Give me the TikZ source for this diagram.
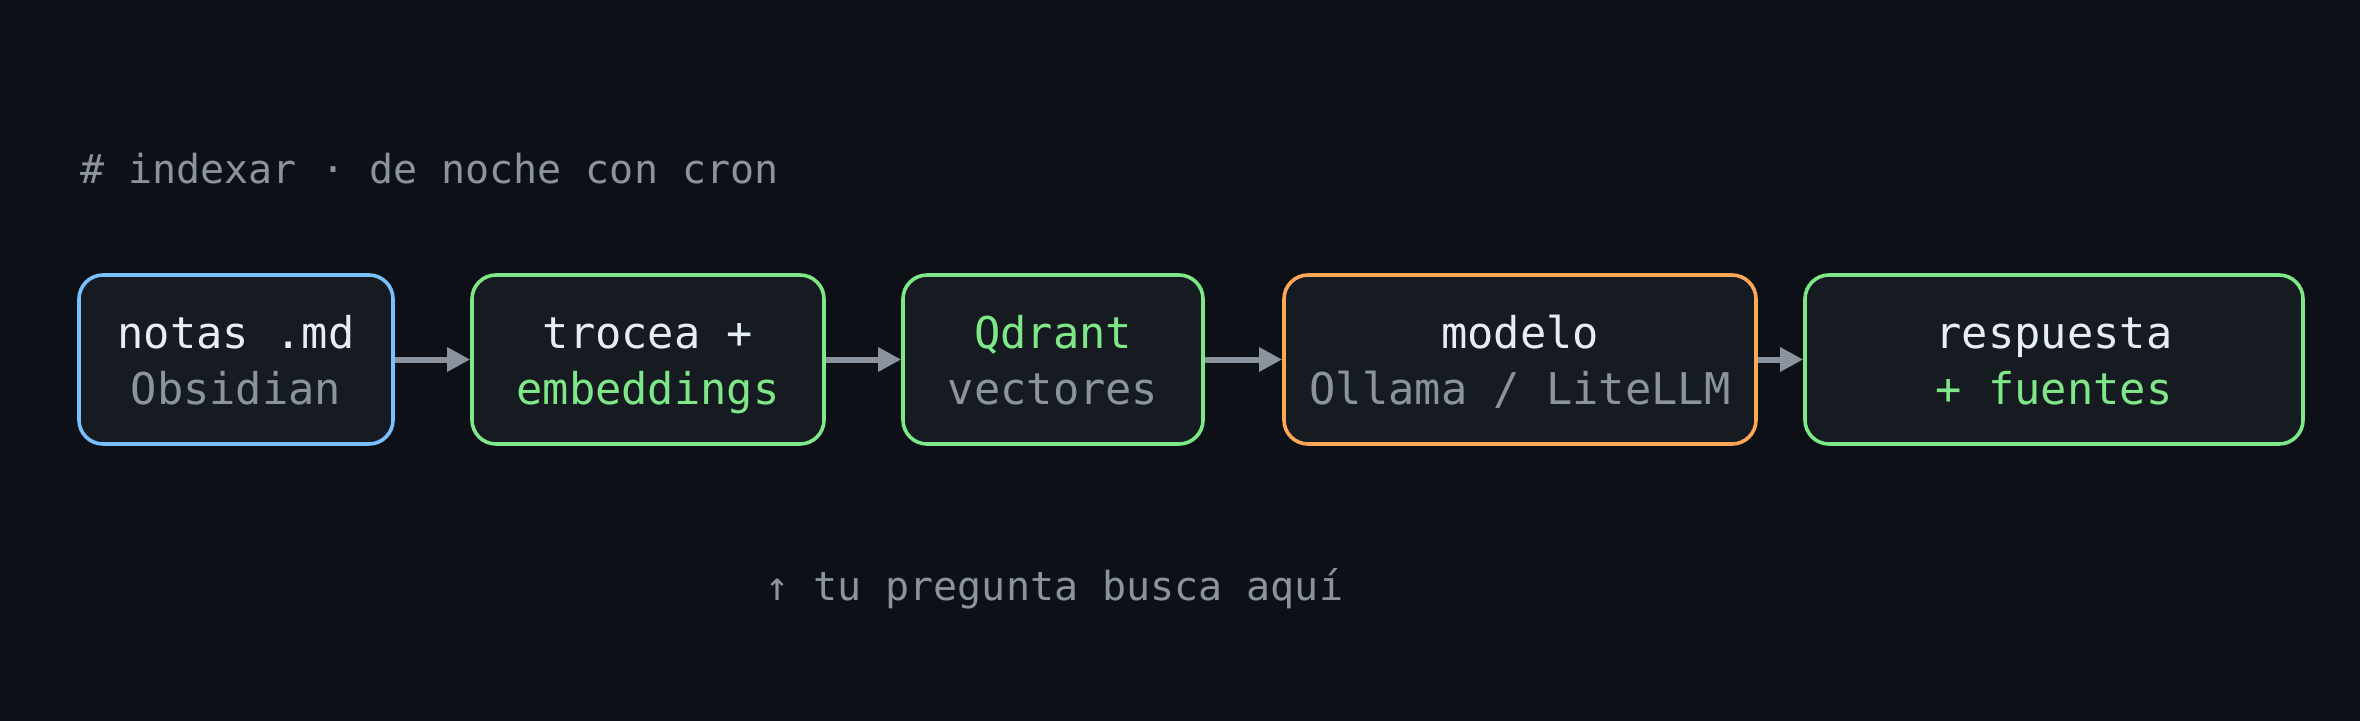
\documentclass[tikz,border=0pt]{standalone}
\usepackage{fontspec}
\newfontfamily\monofam{DejaVu Sans Mono}
\usetikzlibrary{arrows.meta}
\definecolor{bgc}{HTML}{0D1117}
\definecolor{boxfill}{HTML}{161B22}
\definecolor{cblue}{HTML}{79C0FF}
\definecolor{cgreen}{HTML}{7EE787}
\definecolor{corange}{HTML}{FFA657}
\definecolor{cwhite}{HTML}{E6EDF3}
\definecolor{cgrey}{HTML}{8B949E}
\tikzset{
  stagebox/.style={draw, fill=boxfill, line width=3.6pt, rounded corners=24pt, inner sep=0pt, minimum height=169pt},
  mainline/.style={font=\monofam\fontsize{43.7}{50}\selectfont, anchor=base, inner sep=0pt},
  note/.style={font=\monofam\fontsize{40}{46}\selectfont, text=cgrey, anchor=base west, inner sep=0pt},
  flow/.style={draw=cgrey, line width=6pt, -{Triangle[length=23pt,width=23pt]}}
}
\begin{document}
\begin{tikzpicture}[x=1pt,y=-1pt]
\useasboundingbox (0,0) rectangle (2360,720);
\fill[bgc] (-10,-10) rectangle (2370,730);

\node[note] (title) at (80,183) {\# indexar · de noche con cron};

\node[stagebox, draw=cblue, minimum width=314pt] (b1) at (236,359.5) {};
\node[stagebox, draw=cgreen, minimum width=352pt] (b2) at (648,359.5) {};
\node[stagebox, draw=cgreen, minimum width=300pt] (b3) at (1053,359.5) {};
\node[stagebox, draw=corange, minimum width=472pt] (b4) at (1520,359.5) {};
\node[stagebox, draw=cgreen, minimum width=498pt] (b5) at (2054,359.5) {};

\node[mainline, text=cwhite] (b1a) at (236,348) {notas .md};
\node[mainline, text=cgrey] (b1b) at (236,404) {Obsidian};
\node[mainline, text=cwhite] (b2a) at (648,348) {trocea +};
\node[mainline, text=cgreen] (b2b) at (648,404) {embeddings};
\node[mainline, text=cgreen] (b3a) at (1053,348) {Qdrant};
\node[mainline, text=cgrey] (b3b) at (1053,404) {vectores};
\node[mainline, text=cwhite] (b4a) at (1520,348) {modelo};
\node[mainline, text=cgrey] (b4b) at (1520,404) {Ollama / LiteLLM};
\node[mainline, text=cwhite] (b5a) at (2054,348) {respuesta};
\node[mainline, text=cgreen] (b5b) at (2054,404) {+ fuentes};

\draw[flow] (b1) -- (b2);
\draw[flow] (b2) -- (b3);
\draw[flow] (b3) -- (b4);
\draw[flow] (b4) -- (b5);

\node[note] (hint) at (765,600) {↑ tu pregunta busca aquí};
\end{tikzpicture}
\end{document}
